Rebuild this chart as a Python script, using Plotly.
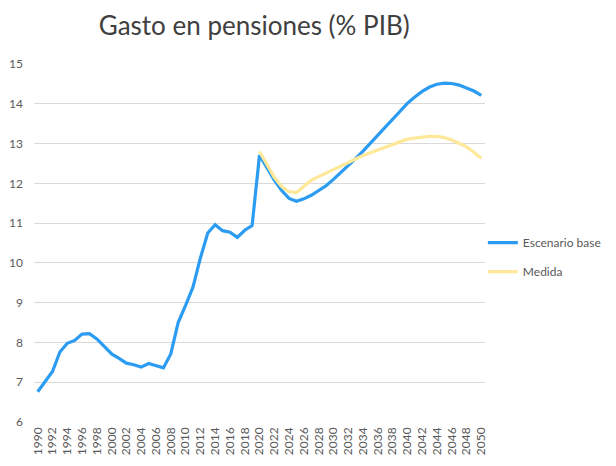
import plotly.graph_objects as go

years = list(range(1990, 2051))

escenario_base = [
    6.76, 7.02, 7.27, 7.76, 7.98, 8.05, 8.21, 8.22, 8.09, 7.90,
    7.71, 7.60, 7.48, 7.44, 7.38, 7.47, 7.41, 7.36, 7.71, 8.50,
    8.93, 9.39, 10.12, 10.75, 10.96, 10.81, 10.77, 10.64, 10.82, 10.94,
    12.71, 12.38, 12.08, 11.82, 11.62, 11.55, 11.61, 11.70, 11.81, 11.94,
    12.10, 12.27, 12.44, 12.62, 12.81, 13.01, 13.22, 13.42, 13.62, 13.82,
    14.01, 14.17, 14.31, 14.42, 14.49, 14.52, 14.51, 14.47, 14.40, 14.32,
    14.21,
]

medida_years = list(range(2020, 2051))
medida = [
    12.80, 12.46, 12.15, 11.92, 11.79, 11.77, 11.92, 12.08, 12.17, 12.26,
    12.35, 12.45, 12.54, 12.62, 12.70, 12.77, 12.84, 12.92, 12.99, 13.06,
    13.11, 13.14, 13.17, 13.18, 13.18, 13.15, 13.09, 13.01, 12.92, 12.78,
    12.63,
]

tick_years = list(range(1990, 2051, 2))
tick_text = [str(y) for y in tick_years]

FONT = "Lato, 'Open Sans', sans-serif"
GRAY = "#595959"

fig = go.Figure()
fig.add_trace(go.Scatter(
    x=years, y=escenario_base, mode="lines", name="Escenario base",
    line=dict(color="#2B9CF2", width=3.2), legendgroup="a",
))
fig.add_trace(go.Scatter(
    x=medida_years, y=medida, mode="lines", name="Medida",
    line=dict(color="#FFE899", width=3.2), legendgroup="b",
))

# page body has an 8px default margin, so the figure is offset by (8, 8)
fig.update_layout(
    width=608, height=458,
    paper_bgcolor="white", plot_bgcolor="white",
    margin=dict(l=26, r=131, t=56, b=44, autoexpand=False),
    font=dict(family=FONT, color=GRAY, size=12),
    title=dict(
        text="Gasto en pensiones (% PIB)",
        font=dict(family=FONT, size=26, color="#404040"),
        x=0.405, xanchor="center", y=0.962, yanchor="middle",
    ),
    legend=dict(
        xref="container", yref="container",
        x=0.781, xanchor="left", y=0.456, yanchor="middle",
        font=dict(family=FONT, size=12, color=GRAY),
        tracegroupgap=10, bgcolor="rgba(0,0,0,0)",
    ),
    showlegend=True,
)
fig.update_xaxes(
    range=[1989.5, 2050.5], automargin=False,
    tickmode="array", tickvals=tick_years, ticktext=tick_text,
    tickangle=-90, showgrid=False, zeroline=False, showline=False,
    ticks="", tickfont=dict(size=12, color=GRAY), ticklabelstandoff=2,
)
fig.update_yaxes(
    range=[6, 15], dtick=1, tick0=6, automargin=False,
    showgrid=True, gridcolor="#D9D9D9", gridwidth=1,
    zeroline=False, showline=False, ticks="",
    tickfont=dict(size=12, color=GRAY), ticklabelstandoff=10,
)

fig.write_html("out.html")
